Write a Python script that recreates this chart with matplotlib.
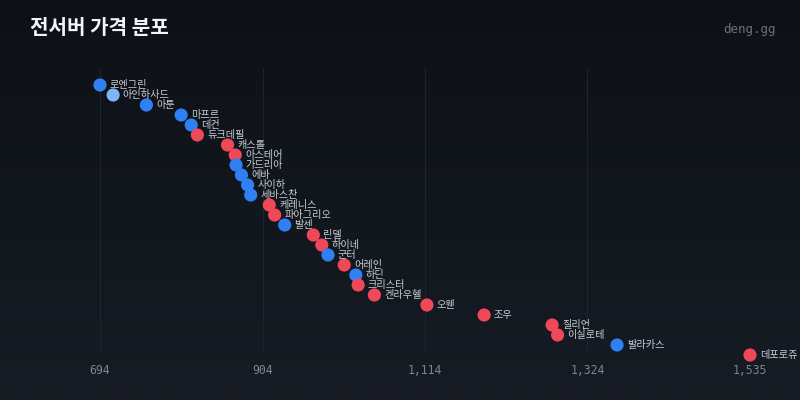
import matplotlib.pyplot as plt
import numpy as np

plt.rcParams['font.family'] = ['Noto Sans CJK KR', 'DejaVu Sans']

# server names, top to bottom
servers = ['로엔그린', '아인하사드', '아툰', '마프르', '데컨', '듀크데필', '캐스톨', '아스테어',
           '가드리아', '에바', '사이하', '세바스찬', '케레니스', '파아그리오', '발센', '린델',
           '하이네', '군터', '어레인', '하딘', '크리스터', '켄라우헬', '오웬', '조우',
           '질리언', '이실로테', '발라카스', '데포로쥬']
prices = [694, 711, 754, 799, 812, 820, 859, 869, 870, 877, 885, 889, 913, 920,
          933, 970, 981, 989, 1010, 1025, 1028, 1049, 1117, 1191, 1279, 1286, 1363, 1535]
groups = ['b', 'l', 'b', 'b', 'b', 'r', 'r', 'r', 'b', 'b', 'b', 'b', 'r', 'r',
          'b', 'r', 'r', 'b', 'r', 'b', 'r', 'r', 'r', 'r', 'r', 'r', 'b', 'r']

colors = {'b': '#2f80f2', 'l': '#7db5f7', 'r': '#ef4858'}

fig = plt.figure(figsize=(8, 4), dpi=100)

# background gradient
bg = fig.add_axes([0, 0, 1, 1], zorder=-10)
grad = np.linspace(0, 1, 256)[:, None]
top = np.array([0x0d, 0x11, 0x17]) / 255
bot = np.array([0x17, 0x1b, 0x23]) / 255
img = top[None, None, :] * (1 - grad[:, :, None]) + bot[None, None, :] * grad[:, :, None]
bg.imshow(img, aspect='auto', extent=[0, 1, 0, 1])
bg.axis('off')

ax = fig.add_axes([100 / 800, (400 - 352) / 400, 650 / 800, 284 / 400])
ax.set_facecolor('none')
n = len(servers)
ys = np.arange(n)
lo, hi = min(prices), max(prices)
ax.set_xlim(lo, hi)
ax.set_ylim(26.7, -1.7)

ticks = np.linspace(lo, hi, 5)
ax.set_xticks(ticks)
ax.set_xticklabels([f'{int(t):,}' for t in ticks], family='DejaVu Sans Mono',
                   fontsize=8.3, color='#7d8590')
ax.tick_params(axis='x', length=0, pad=9)
ax.set_yticks([])
for s in ax.spines.values():
    s.set_visible(False)
ax.grid(axis='x', color='#1f242c', linewidth=0.8)
ax.set_axisbelow(True)

ax.scatter(prices, ys, s=90, c=[colors[g] for g in groups], linewidths=0,
           zorder=3, clip_on=False)
for name, p, y in zip(servers, prices, ys):
    ax.annotate(name, (p, y), xytext=(7, 0), textcoords='offset points',
                va='center', ha='left', fontsize=7.3, color='#c9ced6',
                annotation_clip=False, zorder=4)

fig.text(30 / 800, 1 - 27 / 400, '전서버 가격 분포', fontsize=14.5, fontweight='bold',
         color='#f2f4f7', va='center', ha='left')
fig.text(776 / 800, 1 - 30 / 400, 'deng.gg', family='DejaVu Sans Mono', fontsize=9,
         color='#6b7280', va='center', ha='right')

fig.savefig('out.png', dpi=100)
